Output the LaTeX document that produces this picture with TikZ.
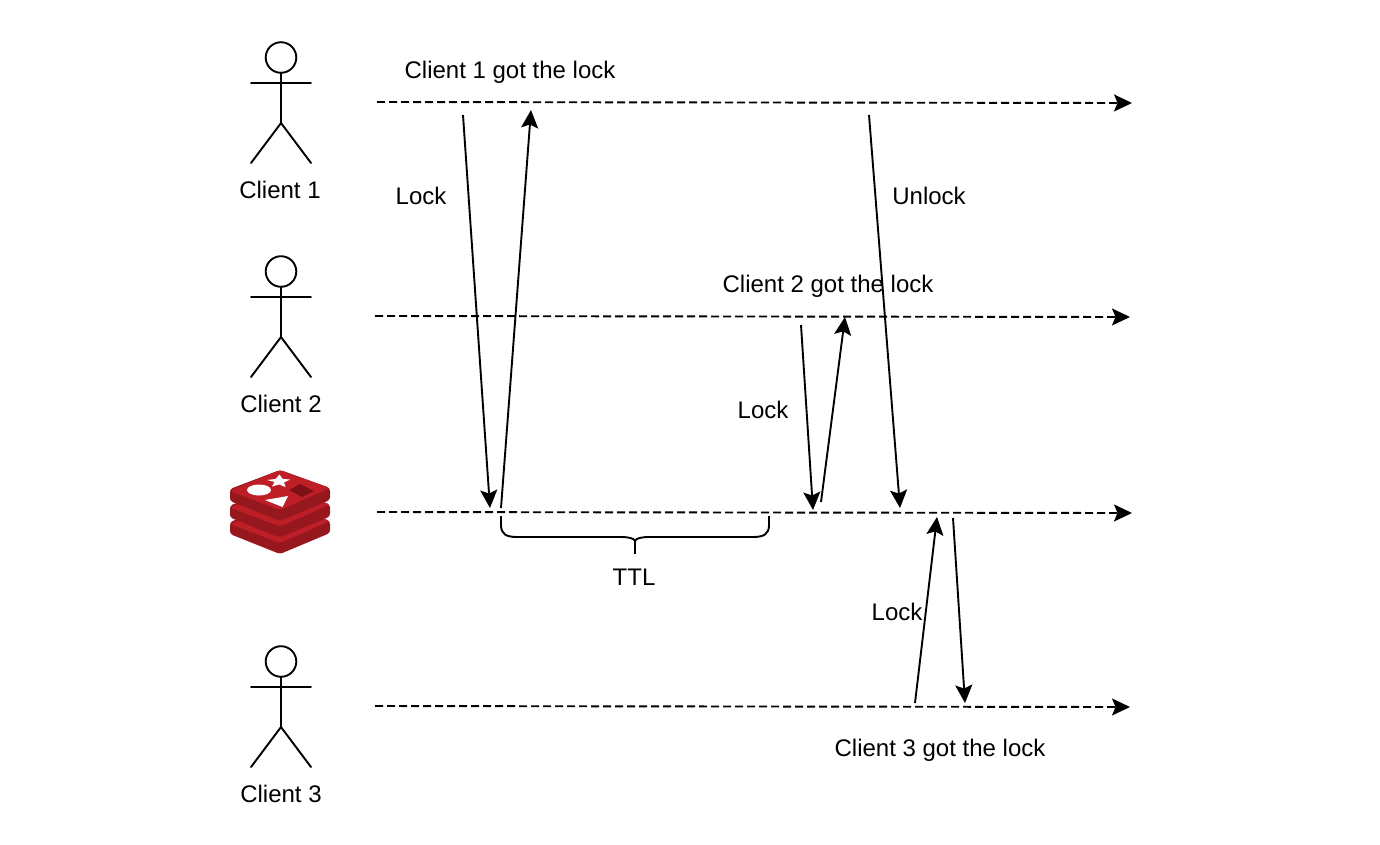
\documentclass[tikz,border=0pt]{standalone}
\usepackage{fontspec}
\setmainfont{Liberation Sans}
\usetikzlibrary{arrows.meta}
\definecolor{redtop}{HTML}{BE1E26}
\definecolor{redside}{HTML}{96181E}
\definecolor{reddark}{HTML}{7E1116}
\tikzset{
  x=1pt,y=-1pt,
  every node/.style={font=\fontsize{24}{28}\selectfont,inner sep=0pt,text=black},
  timeline/.style={draw=black,line width=1.9pt,dash pattern=on 8pt off 4pt,-{Stealth[length=18pt,width=17pt,inset=3.5pt]}},
  msg/.style={draw=black,line width=1.9pt,-{Stealth[length=18pt,width=17pt,inset=3.5pt]}},
  actorline/.style={draw=black,line width=1.9pt,line cap=round},
  pics/actor/.style={code={
    \draw[actorline] (0,0.5) circle[radius=15.3];
    \draw[actorline] (0,15.5) -- (0,66);
    \draw[actorline] (-30,26) -- (30,26);
    \draw[actorline] (-30,106) -- (0,66) -- (30,106);
  }},
  pics/redislayer/.style={code={
    \fill[redside,rounded corners=3pt] (-50,19) -- (-50,31) -- (0,51) -- (50,30) -- (50,18) -- (0,0) -- cycle;
    \fill[redtop,rounded corners=3pt] (0,0) -- (50,18) -- (0,40) -- (-50,21) -- cycle;
  }},
}
\begin{document}
\begin{tikzpicture}
\useasboundingbox (0,0) rectangle (1380,844);
\fill[white] (0,0) rectangle (1380,844);

% actors
\pic at (281,57) {actor};
\pic at (281,271) {actor};
\pic at (281,661) {actor};
\node (c1) at (280,190) {Client 1};
\node (c2) at (281,404) {Client 2};
\node (c3) at (281,794) {Client 3};

% redis logo
\pic at (280,503) {redislayer};
\pic at (280,486.5) {redislayer};
\pic at (280,470) {redislayer};
\fill[white] (259,490) ellipse[x radius=12,y radius=5.5];
\fill[white] (279.5,474.5) -- (282.5,478.8) -- (290,479.5) -- (284,482.5) -- (285.5,487) -- (279,484.5) -- (272,486.5) -- (274.5,482) -- (267,480) -- (275.5,479) -- cycle;
\fill[white] (265,500) -- (288,496) -- (282.5,507) -- cycle;
\fill[reddark] (289,490) -- (300,484) -- (314,491) -- (302,497) -- cycle;

% timeline ends
\coordinate (t1a) at (377,102);   \coordinate (t1b) at (1132,103);
\coordinate (t2a) at (375,316);   \coordinate (t2b) at (1130,317);
\coordinate (t3a) at (377,512);   \coordinate (t3b) at (1132,513);
\coordinate (t4a) at (375,706);   \coordinate (t4b) at (1130,707);
\draw[timeline] (t1a) -- (t1b);
\draw[timeline] (t2a) -- (t2b);
\draw[timeline] (t3a) -- (t3b);
\draw[timeline] (t4a) -- (t4b);

% messages
\coordinate (m1a) at (463,115); \coordinate (m1b) at (490,508);
\coordinate (m2a) at (501,508); \coordinate (m2b) at (531,110);
\coordinate (m3a) at (869,115); \coordinate (m3b) at (900,508);
\coordinate (m4a) at (801,325); \coordinate (m4b) at (813,510);
\coordinate (m5a) at (821,502); \coordinate (m5b) at (845,317);
\coordinate (m6a) at (915,703); \coordinate (m6b) at (937,517);
\coordinate (m7a) at (953,518); \coordinate (m7b) at (965,703);
\draw[msg] (m1a) -- (m1b);
\draw[msg] (m2a) -- (m2b);
\draw[msg] (m3a) -- (m3b);
\draw[msg] (m4a) -- (m4b);
\draw[msg] (m5a) -- (m5b);
\draw[msg] (m6a) -- (m6b);
\draw[msg] (m7a) -- (m7b);

% brace
\coordinate (bl) at (501,516);
\coordinate (br) at (769,516);
\coordinate (bm) at (635,554);
\draw[actorline,line cap=butt] (bl) -- (501,525) .. controls (501,534) and (506,537) .. (517,537)
  -- (620,537) .. controls (628,537) and (634,538) .. (635,541) .. controls (636,538) and (642,537) .. (650,537)
  -- (753,537) .. controls (764,537) and (769,534) .. (769,525) -- (br);
\draw[actorline,line cap=butt] (635,541) -- (bm);

% labels
\node (l1) at (510,72) {Client 1 got the lock};
\node (l2) at (421,196) {Lock};
\node (l3) at (929,196) {Unlock};
\node (l4) at (828,286) {Client 2 got the lock};
\node (l5) at (763,410) {Lock};
\node (l6) at (634,577) {TTL};
\node (l7) at (897,612) {Lock};
\node (l8) at (940,750) {Client 3 got the lock};
\end{tikzpicture}
\end{document}
